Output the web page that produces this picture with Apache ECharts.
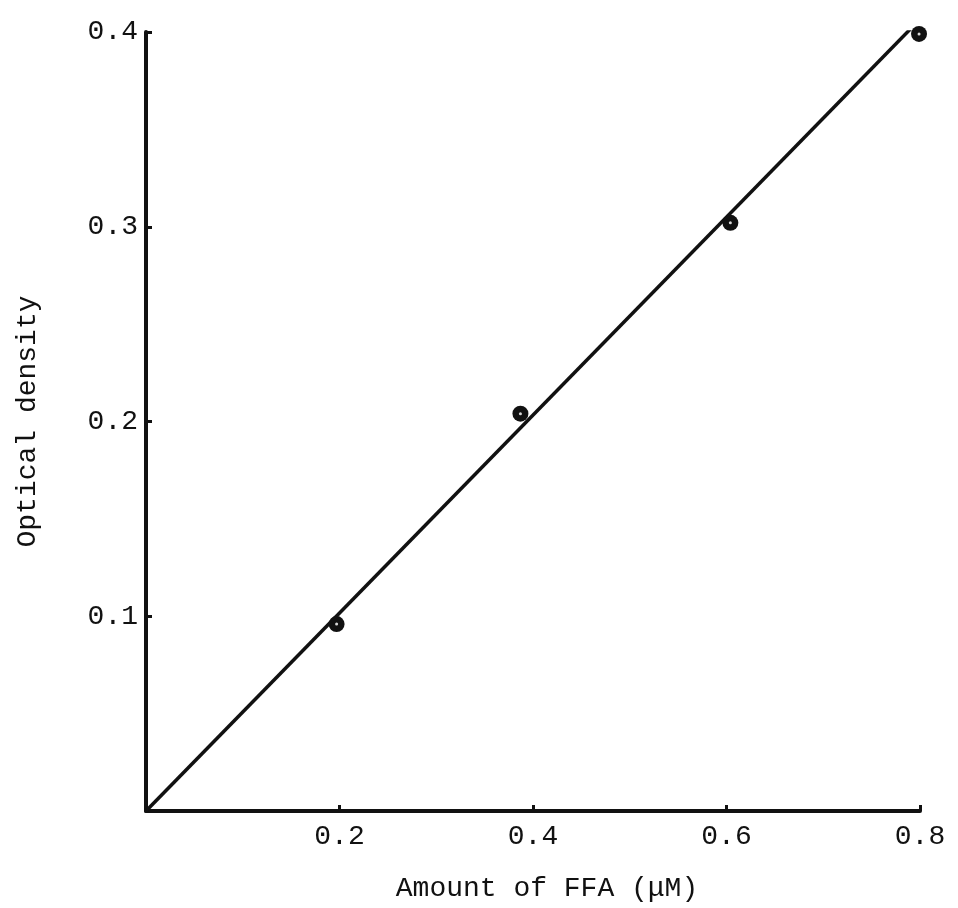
<!DOCTYPE html>
<html>
<head>
<meta charset="utf-8">
<title>Optical density vs amount of FFA</title>
<script src="https://cdn.jsdelivr.net/npm/echarts@6/dist/echarts.min.js"></script>
<style>
  html, body { margin: 0; padding: 0; background: #ffffff; }
  #chart { width: 958px; height: 908px; }
</style>
</head>
<body>
<div id="chart"></div>
<script>
// Calibration readings: amount of free fatty acid vs measured optical density
const ffaAmount = [0.197, 0.387, 0.604, 0.799];
const opticalDensity = [0.096, 0.204, 0.302, 0.399];

// Hand-fitted straight line through the origin
const fitStart = [0, 0];
const fitEnd = [0.791, 0.402];

// Axis ranges and tick spacing
const xRange = [0, 0.8];
const yRange = [0, 0.4];
const xStep = 0.2;
const yStep = 0.1;

const xTitle = 'Amount of FFA (\u03bcM)';
const yTitle = 'Optical density';

const ink = '#111111';
const monoFont = '"Liberation Mono", "DejaVu Sans Mono", monospace';

const points = ffaAmount.map((x, i) => [x, opticalDensity[i]]);

const chart = echarts.init(document.getElementById('chart'), null, { renderer: 'canvas' });

const axisCommon = {
  type: 'value',
  splitLine: { show: false },
  axisLine: { show: true, onZero: false, lineStyle: { color: ink, width: 4 } },
  axisTick: { show: true, inside: true, length: 6, lineStyle: { color: ink, width: 3 } },
  nameLocation: 'middle',
  nameTextStyle: { fontFamily: monoFont, fontSize: 28, color: ink }
};

chart.setOption({
  backgroundColor: '#ffffff',
  animation: false,
  grid: { left: 146, right: 38, top: 32, bottom: 96, containLabel: false },
  xAxis: Object.assign({}, axisCommon, {
    min: xRange[0], max: xRange[1], interval: xStep,
    name: xTitle,
    nameGap: 64,
    nameTextStyle: { fontFamily: monoFont, fontSize: 28, color: ink, padding: [0, 0, 0, 28] },
    axisLabel: {
      fontFamily: monoFont, fontSize: 28, color: ink, margin: 12,
      formatter: v => (v === 0 ? '' : v.toFixed(1))
    }
  }),
  yAxis: Object.assign({}, axisCommon, {
    min: yRange[0], max: yRange[1], interval: yStep,
    name: yTitle,
    nameGap: 104,
    axisLabel: {
      fontFamily: monoFont, fontSize: 28, color: ink, margin: 8,
      formatter: v => (v === 0 ? '' : v.toFixed(1))
    }
  }),
  series: [
    {
      type: 'line',
      data: [fitStart, fitEnd],
      symbol: 'none',
      lineStyle: { color: ink, width: 3.5 },
      z: 2
    },
    {
      type: 'scatter',
      data: points,
      symbol: 'circle',
      symbolSize: 16,
      itemStyle: { color: ink, opacity: 1 },
      z: 3
    },
    {
      // small light speck inside each printed dot
      type: 'scatter',
      data: points,
      symbol: 'circle',
      symbolSize: 3,
      itemStyle: { color: '#d8d8d8', opacity: 1 },
      silent: true,
      z: 4
    }
  ]
});
</script>
</body>
</html>
